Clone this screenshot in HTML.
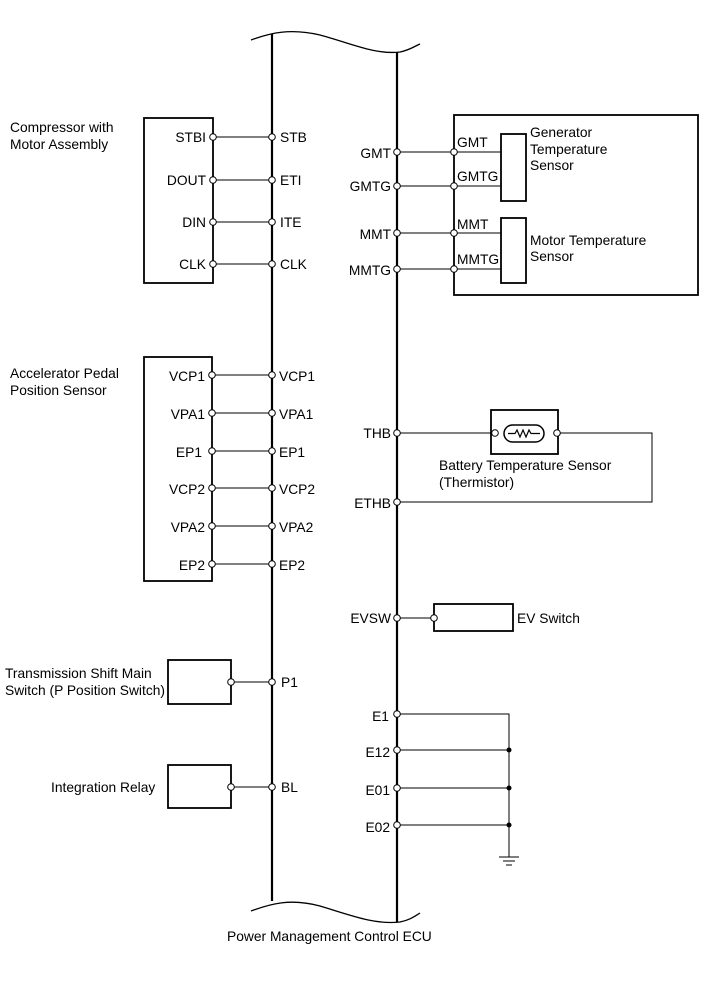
<!DOCTYPE html>
<html><head><meta charset="utf-8"><style>
html,body{margin:0;padding:0;background:#fff;}
svg{display:block;}
text{font-family:"Liberation Sans",Arial,sans-serif;font-size:13.8px;fill:#000;}
</style></head><body>
<svg width="713" height="982" viewBox="0 0 713 982" xmlns="http://www.w3.org/2000/svg">
<g fill="none" stroke="#000">
<path d="M251,40 C270,33 290,28 320,35 C350,43 375,55 400,52 C410,50 415,46 420,44" stroke-width="1.3"/>
<path d="M251,911 C270,904 290,898 320,906 C350,915 375,925 400,922 C410,920 415,916 420,913" stroke-width="1.3"/>
<line x1="272" y1="34" x2="272" y2="901" stroke-width="2.2"/>
<line x1="397" y1="52" x2="397" y2="922" stroke-width="2.2"/>
<rect x="144" y="118" width="69" height="165" stroke-width="1.8"/>
<rect x="144" y="357" width="68" height="224" stroke-width="1.8"/>
<rect x="168" y="660" width="63" height="44" stroke-width="1.8"/>
<rect x="168" y="765" width="63" height="43" stroke-width="1.8"/>
<rect x="454" y="115" width="244" height="180" stroke-width="1.8"/>
<rect x="501" y="134" width="25" height="67" stroke-width="1.8"/>
<rect x="501" y="218" width="25" height="65" stroke-width="1.8"/>
<rect x="491" y="410" width="67" height="44" stroke-width="1.8"/>
<rect x="504" y="425" width="40" height="17" rx="8.5" stroke-width="1.5"/>
<path d="M508,433.5 H515 L517,430 L520,437 L523,430 L526,437 L529,430 L531,433.5 H540" stroke-width="1.2"/>
<rect x="434" y="604" width="79" height="27" stroke-width="1.8"/>
<g stroke-width="1">
<line x1="213" y1="137" x2="272" y2="137"/>
<line x1="213" y1="180" x2="272" y2="180"/>
<line x1="213" y1="222" x2="272" y2="222"/>
<line x1="213" y1="264" x2="272" y2="264"/>
<line x1="212" y1="375" x2="272" y2="375"/>
<line x1="212" y1="413" x2="272" y2="413"/>
<line x1="212" y1="451" x2="272" y2="451"/>
<line x1="212" y1="488" x2="272" y2="488"/>
<line x1="212" y1="526" x2="272" y2="526"/>
<line x1="212" y1="564" x2="272" y2="564"/>
<line x1="231" y1="682" x2="272" y2="682"/>
<line x1="231" y1="787" x2="272" y2="787"/>
<line x1="397" y1="152" x2="501" y2="152"/>
<line x1="397" y1="186" x2="501" y2="186"/>
<line x1="397" y1="233" x2="501" y2="233"/>
<line x1="397" y1="269" x2="501" y2="269"/>
<line x1="397" y1="433" x2="495" y2="433"/>
<polyline points="557,433 652,433 652,502 397,502"/>
<line x1="397" y1="618" x2="434" y2="618"/>
<polyline points="397,714 509,714 509,857"/>
<line x1="397" y1="750" x2="509" y2="750"/>
<line x1="397" y1="788" x2="509" y2="788"/>
<line x1="397" y1="825" x2="509" y2="825"/>
<line x1="499" y1="857" x2="519" y2="857"/>
<line x1="503" y1="861" x2="515" y2="861"/>
<line x1="506" y1="865" x2="512" y2="865"/>
</g>
</g>
<g fill="#000">
<circle cx="509" cy="750" r="2.5"/><circle cx="509" cy="788" r="2.5"/><circle cx="509" cy="825" r="2.5"/>
</g>
<g fill="#fff" stroke="#000" stroke-width="1">
<circle cx="213" cy="137" r="3.3"/><circle cx="272" cy="137" r="3.3"/>
<circle cx="213" cy="180" r="3.3"/><circle cx="272" cy="180" r="3.3"/>
<circle cx="213" cy="222" r="3.3"/><circle cx="272" cy="222" r="3.3"/>
<circle cx="213" cy="264" r="3.3"/><circle cx="272" cy="264" r="3.3"/>
<circle cx="212" cy="375" r="3.3"/><circle cx="272" cy="375" r="3.3"/>
<circle cx="212" cy="413" r="3.3"/><circle cx="272" cy="413" r="3.3"/>
<circle cx="212" cy="451" r="3.3"/><circle cx="272" cy="451" r="3.3"/>
<circle cx="212" cy="488" r="3.3"/><circle cx="272" cy="488" r="3.3"/>
<circle cx="212" cy="526" r="3.3"/><circle cx="272" cy="526" r="3.3"/>
<circle cx="212" cy="564" r="3.3"/><circle cx="272" cy="564" r="3.3"/>
<circle cx="231" cy="682" r="3.3"/><circle cx="272" cy="682" r="3.3"/>
<circle cx="231" cy="787" r="3.3"/><circle cx="272" cy="787" r="3.3"/>
<circle cx="397" cy="152" r="3.3"/><circle cx="454" cy="152" r="3.3"/>
<circle cx="397" cy="186" r="3.3"/><circle cx="454" cy="186" r="3.3"/>
<circle cx="397" cy="233" r="3.3"/><circle cx="454" cy="233" r="3.3"/>
<circle cx="397" cy="269" r="3.3"/><circle cx="454" cy="269" r="3.3"/>
<circle cx="397" cy="433" r="3.3"/><circle cx="495" cy="433" r="3.3"/><circle cx="557" cy="433" r="3.3"/>
<circle cx="397" cy="502" r="3.3"/>
<circle cx="397" cy="618" r="3.3"/><circle cx="434" cy="618" r="3.3"/>
<circle cx="397" cy="714" r="3.3"/><circle cx="397" cy="750" r="3.3"/>
<circle cx="397" cy="788" r="3.3"/><circle cx="397" cy="825" r="3.3"/>
</g>
<text x="10" y="132">Compressor with</text>
<text x="10" y="149">Motor Assembly</text>
<text x="10" y="378">Accelerator Pedal</text>
<text x="10" y="395">Position Sensor</text>
<text x="5" y="678">Transmission Shift Main</text>
<text x="5" y="695">Switch (P Position Switch)</text>
<text x="51" y="792">Integration Relay</text>
<g text-anchor="end">
<text x="206" y="142">STBI</text>
<text x="206" y="185">DOUT</text>
<text x="206" y="227">DIN</text>
<text x="206" y="269">CLK</text>
<text x="205" y="381">VCP1</text>
<text x="205" y="419">VPA1</text>
<text x="202" y="457">EP1</text>
<text x="205" y="494">VCP2</text>
<text x="205" y="532">VPA2</text>
<text x="205" y="570">EP2</text>
<text x="391" y="158">GMT</text>
<text x="391" y="191">GMTG</text>
<text x="391" y="239">MMT</text>
<text x="391" y="275">MMTG</text>
<text x="391" y="438">THB</text>
<text x="391" y="508">ETHB</text>
<text x="391" y="623">EVSW</text>
<text x="389" y="721">E1</text>
<text x="390" y="757">E12</text>
<text x="390" y="795">E01</text>
<text x="390" y="832">E02</text>
</g>
<g>
<text x="280" y="142">STB</text>
<text x="280" y="185">ETI</text>
<text x="280" y="227">ITE</text>
<text x="280" y="269">CLK</text>
<text x="279" y="381">VCP1</text>
<text x="279" y="419">VPA1</text>
<text x="279" y="457">EP1</text>
<text x="279" y="494">VCP2</text>
<text x="279" y="532">VPA2</text>
<text x="279" y="570">EP2</text>
<text x="281" y="687">P1</text>
<text x="281" y="792">BL</text>
<text x="457" y="147">GMT</text>
<text x="457" y="181">GMTG</text>
<text x="457" y="229">MMT</text>
<text x="457" y="264">MMTG</text>
<text x="530" y="137">Generator</text>
<text x="530" y="154">Temperature</text>
<text x="530" y="170">Sensor</text>
<text x="530" y="245">Motor Temperature</text>
<text x="530" y="261">Sensor</text>
<text x="439" y="470">Battery Temperature Sensor</text>
<text x="439" y="487">(Thermistor)</text>
<text x="517" y="623">EV Switch</text>
<text x="227" y="941">Power Management Control ECU</text>
</g>
</svg>
</body></html>
